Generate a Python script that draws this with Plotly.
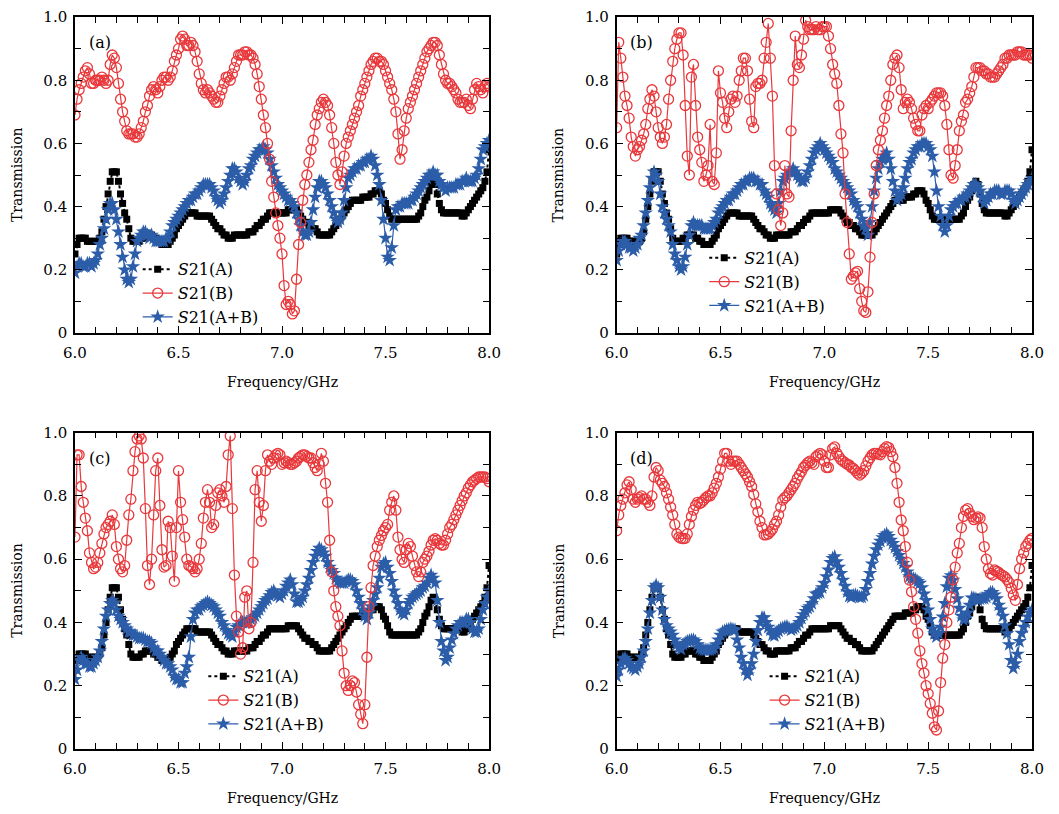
import plotly.graph_objects as go

# ---------------- data ----------------
FREQ = [round(6.0 + 0.01 * i, 2) for i in range(201)]  # frequency grid, GHz

X_TICKS = [6.0, 6.5, 7.0, 7.5, 8.0]
X_TICK_TEXT = ["6.0", "6.5", "7.0", "7.5", "8.0"]
Y_TICKS = [0, 0.2, 0.4, 0.6, 0.8, 1.0]
Y_TICK_TEXT = ["0", "0.2", "0.4", "0.6", "0.8", "1.0"]
PANEL_LABELS = ["(a)", "(b)", "(c)", "(d)"]
SERIES_NAMES = ["<i>S</i>21(A)", "<i>S</i>21(B)", "<i>S</i>21(A+B)"]

# S21(A): same measurement shown in all four panels
S21_A = [
    0.25, 0.28, 0.30, 0.30, 0.30, 0.30, 0.29, 0.29, 0.29, 0.29,
    0.29, 0.29, 0.30, 0.32, 0.36, 0.40, 0.44, 0.48, 0.51, 0.51,
    0.51, 0.48, 0.44, 0.41, 0.38, 0.36, 0.33, 0.30, 0.29, 0.29,
    0.29, 0.29, 0.30, 0.30, 0.31, 0.31, 0.31, 0.31, 0.30, 0.30,
    0.29, 0.29, 0.28, 0.28, 0.28, 0.28, 0.29, 0.30, 0.31, 0.33,
    0.34, 0.35, 0.36, 0.37, 0.38, 0.38, 0.38, 0.38, 0.38, 0.37,
    0.37, 0.37, 0.37, 0.37, 0.37, 0.37, 0.36, 0.35, 0.34, 0.33,
    0.33, 0.32, 0.31, 0.31, 0.30, 0.30, 0.30, 0.31, 0.31, 0.31,
    0.31, 0.31, 0.31, 0.31, 0.32, 0.32, 0.32, 0.33, 0.34, 0.34,
    0.35, 0.36, 0.36, 0.37, 0.38, 0.38, 0.38, 0.38, 0.38, 0.38,
    0.38, 0.38, 0.38, 0.39, 0.39, 0.39, 0.39, 0.39, 0.38, 0.37,
    0.36, 0.35, 0.35, 0.34, 0.34, 0.33, 0.33, 0.32, 0.31, 0.31,
    0.31, 0.31, 0.31, 0.31, 0.32, 0.33, 0.34, 0.35, 0.36, 0.37,
    0.38, 0.39, 0.40, 0.41, 0.42, 0.42, 0.42, 0.42, 0.42, 0.43,
    0.43, 0.43, 0.43, 0.44, 0.44, 0.45, 0.45, 0.45, 0.44, 0.42,
    0.41, 0.39, 0.37, 0.36, 0.36, 0.36, 0.36, 0.36, 0.36, 0.36,
    0.36, 0.36, 0.36, 0.36, 0.36, 0.36, 0.37, 0.38, 0.40, 0.42,
    0.43, 0.45, 0.47, 0.48, 0.47, 0.44, 0.41, 0.39, 0.38, 0.38,
    0.38, 0.38, 0.38, 0.38, 0.38, 0.38, 0.38, 0.37, 0.37, 0.38,
    0.39, 0.40, 0.41, 0.42, 0.43, 0.44, 0.45, 0.46, 0.48, 0.51,
    0.58,
]

S21_B_a = [
    0.69, 0.74, 0.77, 0.79, 0.81, 0.83, 0.84, 0.82, 0.79, 0.79,
    0.80, 0.80, 0.80, 0.81, 0.80, 0.79, 0.80, 0.85, 0.88, 0.87,
    0.84, 0.79, 0.74, 0.70, 0.67, 0.64, 0.63, 0.63, 0.63, 0.62,
    0.62, 0.63, 0.65, 0.67, 0.70, 0.72, 0.75, 0.77, 0.78, 0.77,
    0.76, 0.78, 0.80, 0.81, 0.81, 0.80, 0.81, 0.83, 0.86, 0.88,
    0.90, 0.93, 0.94, 0.93, 0.91, 0.91, 0.92, 0.91, 0.89, 0.86,
    0.82, 0.79, 0.77, 0.76, 0.77, 0.76, 0.75, 0.74, 0.73, 0.73,
    0.75, 0.77, 0.79, 0.81, 0.81, 0.80, 0.82, 0.84, 0.86, 0.88,
    0.88, 0.88, 0.89, 0.89, 0.88, 0.88, 0.87, 0.85, 0.82, 0.78,
    0.74, 0.69, 0.65, 0.60, 0.55, 0.48, 0.43, 0.38, 0.34, 0.30,
    0.25, 0.15, 0.09, 0.10, 0.09, 0.06, 0.07, 0.17, 0.28, 0.35,
    0.42, 0.47, 0.50, 0.54, 0.58, 0.61, 0.66, 0.69, 0.71, 0.73,
    0.74, 0.73, 0.72, 0.69, 0.65, 0.60, 0.54, 0.50, 0.47, 0.51,
    0.56, 0.60, 0.62, 0.64, 0.66, 0.68, 0.70, 0.72, 0.75, 0.77,
    0.79, 0.81, 0.83, 0.85, 0.86, 0.87, 0.87, 0.86, 0.86, 0.85,
    0.83, 0.81, 0.79, 0.77, 0.74, 0.70, 0.63, 0.55, 0.58, 0.64,
    0.68, 0.71, 0.73, 0.75, 0.77, 0.79, 0.81, 0.83, 0.85, 0.87,
    0.89, 0.90, 0.91, 0.92, 0.92, 0.91, 0.88, 0.85, 0.82, 0.80,
    0.79, 0.79, 0.78, 0.77, 0.76, 0.74, 0.73, 0.73, 0.73, 0.74,
    0.72, 0.71, 0.74, 0.77, 0.79, 0.78, 0.77, 0.76, 0.78, 0.79,
    0.78,
]

S21_AB_a = [
    0.19, 0.21, 0.22, 0.22, 0.21, 0.21, 0.22, 0.22, 0.21, 0.22,
    0.23, 0.25, 0.28, 0.30, 0.33, 0.36, 0.39, 0.41, 0.41, 0.39,
    0.36, 0.32, 0.28, 0.24, 0.20, 0.17, 0.16, 0.17, 0.21, 0.25,
    0.29, 0.30, 0.31, 0.32, 0.32, 0.31, 0.30, 0.31, 0.30, 0.29,
    0.29, 0.29, 0.29, 0.29, 0.30, 0.30, 0.32, 0.34, 0.35, 0.36,
    0.37, 0.38, 0.39, 0.40, 0.41, 0.42, 0.42, 0.43, 0.44, 0.44,
    0.45, 0.46, 0.47, 0.47, 0.47, 0.47, 0.46, 0.45, 0.43, 0.42,
    0.41, 0.42, 0.44, 0.46, 0.48, 0.50, 0.52, 0.52, 0.51, 0.49,
    0.48, 0.47, 0.48, 0.50, 0.52, 0.53, 0.55, 0.56, 0.57, 0.58,
    0.58, 0.59, 0.58, 0.57, 0.55, 0.53, 0.51, 0.49, 0.47, 0.46,
    0.45, 0.44, 0.43, 0.42, 0.42, 0.41, 0.40, 0.38, 0.36, 0.34,
    0.32, 0.31, 0.31, 0.32, 0.35, 0.39, 0.43, 0.46, 0.48, 0.48,
    0.47, 0.46, 0.44, 0.42, 0.40, 0.38, 0.36, 0.35, 0.36, 0.38,
    0.42, 0.46, 0.49, 0.50, 0.51, 0.52, 0.52, 0.53, 0.53, 0.54,
    0.54, 0.55, 0.55, 0.56, 0.55, 0.53, 0.50, 0.47, 0.42, 0.36,
    0.30, 0.24, 0.23, 0.27, 0.34, 0.39, 0.40, 0.40, 0.41, 0.41,
    0.41, 0.41, 0.42, 0.42, 0.43, 0.44, 0.45, 0.46, 0.47, 0.48,
    0.49, 0.50, 0.50, 0.51, 0.50, 0.50, 0.48, 0.47, 0.46, 0.45,
    0.46, 0.46, 0.46, 0.46, 0.47, 0.47, 0.47, 0.48, 0.48, 0.49,
    0.48, 0.48, 0.48, 0.49, 0.50, 0.52, 0.55, 0.58, 0.59, 0.60,
    0.61,
]

S21_B_b = [
    0.65, 0.92, 0.87, 0.81, 0.75, 0.72, 0.68, 0.62, 0.59, 0.56,
    0.58, 0.59, 0.61, 0.63, 0.66, 0.71, 0.74, 0.77, 0.75, 0.70,
    0.65, 0.62, 0.60, 0.62, 0.66, 0.74, 0.80, 0.86, 0.90, 0.93,
    0.95, 0.95, 0.88, 0.72, 0.56, 0.50, 0.81, 0.85, 0.72, 0.62,
    0.58, 0.54, 0.48, 0.50, 0.53, 0.66, 0.48, 0.47, 0.57, 0.83,
    0.76, 0.73, 0.68, 0.65, 0.70, 0.74, 0.75, 0.73, 0.75, 0.80,
    0.83, 0.87, 0.87, 0.83, 0.74, 0.67, 0.65, 0.78, 0.79, 0.79,
    0.80, 0.87, 0.92, 0.98, 0.87, 0.75, 0.53, 0.44, 0.39, 0.34,
    0.38, 0.53, 0.44, 0.43, 0.64, 0.80, 0.94, 0.85, 0.84, 0.88,
    0.93, 0.99, 0.97, 0.96, 0.96, 0.96, 0.97, 0.96, 0.96, 0.97,
    0.97, 0.97, 0.94, 0.90, 0.85, 0.82, 0.79, 0.72, 0.63, 0.57,
    0.44, 0.35, 0.25, 0.17, 0.18, 0.19, 0.195, 0.14, 0.10, 0.07,
    0.065, 0.13, 0.24, 0.35, 0.44, 0.53, 0.58, 0.61, 0.64, 0.68,
    0.72, 0.75, 0.80, 0.85, 0.87, 0.88, 0.84, 0.77, 0.71, 0.73,
    0.74, 0.73, 0.71, 0.68, 0.66, 0.64, 0.64, 0.69, 0.71, 0.72,
    0.71, 0.73, 0.74, 0.75, 0.76, 0.76, 0.76, 0.75, 0.72, 0.66,
    0.58, 0.50, 0.49, 0.53, 0.58, 0.64, 0.67, 0.69, 0.73, 0.74,
    0.76, 0.78, 0.81, 0.84, 0.84, 0.84, 0.83, 0.83, 0.82, 0.82,
    0.81, 0.81, 0.81, 0.82, 0.83, 0.84, 0.85, 0.87, 0.87, 0.88,
    0.88, 0.88, 0.88, 0.89, 0.89, 0.89, 0.88, 0.88, 0.88, 0.88,
    0.87,
]

S21_AB_b = [
    0.23, 0.26, 0.28, 0.29, 0.29, 0.28, 0.27, 0.27, 0.26, 0.27,
    0.28, 0.30, 0.31, 0.34, 0.38, 0.42, 0.46, 0.49, 0.51, 0.50,
    0.48, 0.44, 0.40, 0.38, 0.36, 0.34, 0.32, 0.28, 0.25, 0.23,
    0.21, 0.20, 0.21, 0.24, 0.28, 0.31, 0.34, 0.35, 0.34, 0.34,
    0.34, 0.34, 0.33, 0.33, 0.33, 0.33, 0.34, 0.35, 0.36, 0.38,
    0.39, 0.40, 0.41, 0.42, 0.42, 0.43, 0.44, 0.44, 0.45, 0.46,
    0.47, 0.47, 0.48, 0.48, 0.49, 0.49, 0.49, 0.48, 0.48, 0.47,
    0.47, 0.45, 0.44, 0.43, 0.41, 0.40, 0.39, 0.38, 0.41, 0.45,
    0.48, 0.49, 0.50, 0.51, 0.51, 0.52, 0.51, 0.50, 0.49, 0.48,
    0.48, 0.49, 0.51, 0.53, 0.55, 0.57, 0.58, 0.59, 0.60, 0.59,
    0.58, 0.57, 0.56, 0.55, 0.54, 0.52, 0.51, 0.50, 0.49, 0.48,
    0.47, 0.46, 0.45, 0.44, 0.42, 0.41, 0.40, 0.38, 0.36, 0.34,
    0.33, 0.31, 0.35, 0.40, 0.45, 0.49, 0.52, 0.54, 0.55, 0.56,
    0.57, 0.55, 0.52, 0.48, 0.45, 0.42, 0.43, 0.44, 0.46, 0.49,
    0.52, 0.54, 0.55, 0.57, 0.58, 0.59, 0.59, 0.60, 0.60, 0.60,
    0.59, 0.58, 0.56, 0.51, 0.45, 0.40, 0.37, 0.34, 0.32, 0.34,
    0.37, 0.39, 0.40, 0.41, 0.41, 0.42, 0.42, 0.43, 0.43, 0.44,
    0.45, 0.46, 0.47, 0.47, 0.46, 0.45, 0.43, 0.41, 0.42, 0.43,
    0.44, 0.44, 0.45, 0.45, 0.45, 0.44, 0.44, 0.45, 0.45, 0.45,
    0.44, 0.42, 0.41, 0.42, 0.43, 0.44, 0.45, 0.46, 0.47, 0.48,
    0.49,
]

S21_B_c = [
    0.67, 0.93, 0.93, 0.83, 0.78, 0.73, 0.69, 0.62, 0.59, 0.57,
    0.575, 0.59, 0.62, 0.65, 0.68, 0.70, 0.71, 0.72, 0.74, 0.71,
    0.64, 0.60, 0.57, 0.56, 0.58, 0.66, 0.74, 0.79, 0.88, 0.94,
    0.98, 0.99, 0.98, 0.92, 0.76, 0.58, 0.52, 0.60, 0.74, 0.88,
    0.92, 0.77, 0.63, 0.575, 0.58, 0.72, 0.70, 0.61, 0.53, 0.70,
    0.88, 0.78, 0.725, 0.67, 0.60, 0.58, 0.577, 0.57, 0.56, 0.57,
    0.60, 0.65, 0.73, 0.78, 0.82, 0.78, 0.70, 0.71, 0.77, 0.81,
    0.82, 0.80, 0.78, 0.83, 0.93, 0.99, 0.76, 0.55, 0.42, 0.37,
    0.30, 0.32, 0.48, 0.50, 0.38, 0.40, 0.59, 0.82, 0.88, 0.78,
    0.72, 0.77, 0.88, 0.93, 0.91, 0.90, 0.92, 0.93, 0.935, 0.93,
    0.90, 0.905, 0.91, 0.905, 0.90, 0.90, 0.905, 0.91, 0.92, 0.925,
    0.93, 0.93, 0.925, 0.92, 0.92, 0.905, 0.89, 0.88, 0.90, 0.935,
    0.91, 0.84, 0.78, 0.66, 0.56, 0.50, 0.45, 0.42, 0.39, 0.31,
    0.24, 0.20, 0.185, 0.20, 0.215, 0.21, 0.18, 0.14, 0.11, 0.08,
    0.14, 0.29, 0.45, 0.51, 0.58, 0.61, 0.64, 0.66, 0.675, 0.69,
    0.70, 0.71, 0.755, 0.78, 0.80, 0.755, 0.67, 0.63, 0.60, 0.59,
    0.63, 0.65, 0.64, 0.61, 0.58, 0.56, 0.545, 0.56, 0.59, 0.60,
    0.61, 0.625, 0.645, 0.66, 0.665, 0.66, 0.65, 0.645, 0.645, 0.66,
    0.68, 0.70, 0.71, 0.725, 0.74, 0.755, 0.77, 0.785, 0.80, 0.81,
    0.825, 0.835, 0.845, 0.85, 0.855, 0.86, 0.86, 0.86, 0.86, 0.855,
    0.845,
]

S21_AB_c = [
    0.22, 0.25, 0.28, 0.29, 0.28, 0.27, 0.27, 0.26, 0.26, 0.27,
    0.28, 0.29, 0.31, 0.34, 0.38, 0.42, 0.44, 0.46, 0.47, 0.46,
    0.44, 0.42, 0.41, 0.40, 0.39, 0.38, 0.37, 0.37, 0.36, 0.36,
    0.355, 0.35, 0.35, 0.35, 0.345, 0.34, 0.34, 0.335, 0.32, 0.31,
    0.31, 0.30, 0.29, 0.28, 0.27, 0.27, 0.26, 0.25, 0.23, 0.22,
    0.22, 0.21, 0.21, 0.24, 0.26, 0.29, 0.355, 0.41, 0.43, 0.44,
    0.44, 0.45, 0.455, 0.46, 0.465, 0.46, 0.455, 0.45, 0.44, 0.43,
    0.42, 0.40, 0.39, 0.375, 0.365, 0.36, 0.355, 0.37, 0.385, 0.39,
    0.40, 0.40, 0.40, 0.40, 0.40, 0.41, 0.415, 0.42, 0.43, 0.44,
    0.45, 0.46, 0.47, 0.475, 0.485, 0.495, 0.50, 0.49, 0.485, 0.48,
    0.49, 0.50, 0.515, 0.525, 0.535, 0.52, 0.49, 0.465, 0.465, 0.47,
    0.48, 0.50, 0.52, 0.54, 0.565, 0.59, 0.61, 0.625, 0.635, 0.63,
    0.62, 0.61, 0.59, 0.575, 0.565, 0.555, 0.54, 0.53, 0.525, 0.525,
    0.525, 0.53, 0.535, 0.535, 0.53, 0.52, 0.50, 0.48, 0.46, 0.44,
    0.42, 0.41, 0.43, 0.45, 0.47, 0.49, 0.51, 0.54, 0.575, 0.585,
    0.59, 0.575, 0.555, 0.53, 0.50, 0.48, 0.46, 0.44, 0.43, 0.425,
    0.44, 0.46, 0.47, 0.48, 0.485, 0.49, 0.495, 0.50, 0.51, 0.515,
    0.525, 0.54, 0.55, 0.54, 0.525, 0.47, 0.40, 0.34, 0.31, 0.28,
    0.29, 0.32, 0.345, 0.365, 0.38, 0.39, 0.40, 0.40, 0.40, 0.41,
    0.41, 0.40, 0.38, 0.37, 0.37, 0.38, 0.41, 0.44, 0.46, 0.48,
    0.50,
]

S21_B_d = [
    0.69, 0.74, 0.77, 0.79, 0.81, 0.835, 0.845, 0.82, 0.79, 0.78,
    0.79, 0.795, 0.80, 0.79, 0.79, 0.78, 0.77, 0.80, 0.86, 0.89,
    0.88, 0.85, 0.84, 0.83, 0.81, 0.79, 0.765, 0.74, 0.71, 0.68,
    0.67, 0.666, 0.665, 0.666, 0.68, 0.71, 0.735, 0.755, 0.77, 0.78,
    0.776, 0.78, 0.787, 0.795, 0.80, 0.80, 0.81, 0.825, 0.84, 0.86,
    0.885, 0.91, 0.935, 0.935, 0.91, 0.90, 0.91, 0.91, 0.91, 0.90,
    0.89, 0.88, 0.87, 0.86, 0.845, 0.83, 0.805, 0.775, 0.75, 0.72,
    0.70, 0.677, 0.677, 0.68, 0.687, 0.695, 0.71, 0.72, 0.74, 0.765,
    0.787, 0.795, 0.80, 0.81, 0.82, 0.83, 0.84, 0.855, 0.866, 0.877,
    0.89, 0.897, 0.905, 0.91, 0.905, 0.90, 0.924, 0.93, 0.935, 0.93,
    0.91, 0.89, 0.89, 0.93, 0.95, 0.955, 0.935, 0.925, 0.915, 0.91,
    0.905, 0.90, 0.898, 0.89, 0.887, 0.88, 0.872, 0.866, 0.872, 0.88,
    0.895, 0.91, 0.92, 0.93, 0.935, 0.935, 0.932, 0.93, 0.94, 0.95,
    0.956, 0.953, 0.94, 0.924, 0.89, 0.84, 0.78, 0.724, 0.69, 0.64,
    0.59, 0.534, 0.497, 0.45, 0.41, 0.366, 0.31, 0.27, 0.24, 0.20,
    0.175, 0.144, 0.113, 0.07, 0.06, 0.12, 0.21, 0.287, 0.33, 0.40,
    0.44, 0.48, 0.535, 0.575, 0.62, 0.65, 0.70, 0.735, 0.755, 0.76,
    0.745, 0.735, 0.725, 0.73, 0.734, 0.73, 0.70, 0.64, 0.60, 0.57,
    0.555, 0.55, 0.566, 0.562, 0.558, 0.552, 0.548, 0.544, 0.536, 0.526,
    0.508, 0.487, 0.47, 0.52, 0.57, 0.60, 0.62, 0.64, 0.65, 0.66,
    0.666,
]

S21_AB_d = [
    0.23, 0.25, 0.27, 0.285, 0.287, 0.28, 0.27, 0.26, 0.255, 0.25,
    0.26, 0.27, 0.29, 0.31, 0.34, 0.38, 0.43, 0.47, 0.51, 0.518,
    0.51, 0.48, 0.44, 0.41, 0.39, 0.38, 0.37, 0.36, 0.345, 0.33,
    0.32, 0.315, 0.33, 0.335, 0.34, 0.342, 0.344, 0.345, 0.34, 0.33,
    0.318, 0.315, 0.313, 0.313, 0.313, 0.313, 0.315, 0.318, 0.33, 0.345,
    0.36, 0.37, 0.373, 0.376, 0.378, 0.38, 0.378, 0.376, 0.345, 0.32,
    0.29, 0.27, 0.25, 0.234, 0.25, 0.27, 0.30, 0.34, 0.375, 0.40,
    0.415, 0.415, 0.40, 0.385, 0.376, 0.36, 0.358, 0.366, 0.373, 0.38,
    0.383, 0.386, 0.387, 0.382, 0.376, 0.38, 0.385, 0.39, 0.40, 0.413,
    0.425, 0.435, 0.445, 0.45, 0.46, 0.475, 0.49, 0.493, 0.495, 0.51,
    0.524, 0.545, 0.566, 0.59, 0.603, 0.608, 0.592, 0.575, 0.555, 0.534,
    0.515, 0.497, 0.483, 0.48, 0.485, 0.487, 0.483, 0.48, 0.48, 0.485,
    0.505, 0.53, 0.555, 0.585, 0.61, 0.63, 0.645, 0.657, 0.668, 0.675,
    0.68, 0.672, 0.66, 0.65, 0.638, 0.625, 0.612, 0.60, 0.587, 0.575,
    0.56, 0.545, 0.54, 0.538, 0.535, 0.53, 0.524, 0.51, 0.49, 0.47,
    0.44, 0.41, 0.38, 0.365, 0.355, 0.365, 0.385, 0.418, 0.46, 0.513,
    0.54, 0.548, 0.534, 0.505, 0.475, 0.445, 0.42, 0.408, 0.412, 0.43,
    0.455, 0.478, 0.477, 0.474, 0.47, 0.474, 0.476, 0.476, 0.48, 0.488,
    0.495, 0.495, 0.487, 0.475, 0.455, 0.44, 0.42, 0.39, 0.365, 0.33,
    0.28, 0.255, 0.27, 0.30, 0.34, 0.366, 0.385, 0.40, 0.418, 0.43,
    0.44,
]

PANEL_B = [S21_B_a, S21_B_b, S21_B_c, S21_B_d]
PANEL_AB = [S21_AB_a, S21_AB_b, S21_AB_c, S21_AB_d]

for name, arr in [("S21_A", S21_A), ("a", S21_B_a), ("b", S21_B_b), ("c", S21_B_c), ("d", S21_B_d),
                  ("ab_a", S21_AB_a), ("ab_b", S21_AB_b), ("ab_c", S21_AB_c), ("ab_d", S21_AB_d)]:
    if len(arr) != len(FREQ):
        raise ValueError(f"{name} has {len(arr)} values")

# ---------------- style ----------------
FONT = "DejaVu Serif"
RED = "#E8383B"
BLUE = "#2C5DA9"
X_DOMAINS = [[0.0708, 0.4618], [0.5823, 0.9745], [0.0708, 0.4618], [0.5823, 0.9745]]
Y_DOMAINS = [[0.591, 0.979], [0.591, 0.979], [0.0799, 0.4684], [0.0799, 0.4684]]
LEGEND_POS = [(0.130, 0.690), (0.665, 0.704), (0.192, 0.190), (0.722, 0.190)]

fig = go.Figure()
layout = dict(
    width=1059, height=814,
    margin=dict(l=0, r=0, t=0, b=0),
    paper_bgcolor="white", plot_bgcolor="white",
    font=dict(family=FONT, color="black", size=15),
    annotations=[],
)

for i in range(4):
    n = i + 1
    sfx = "" if n == 1 else str(n)
    xa, ya = "x" + sfx, "y" + sfx
    lg = "legend" + sfx

    fig.add_trace(go.Scatter(
        x=FREQ, y=S21_A, xaxis=xa, yaxis=ya, legend=lg, legendrank=1,
        name=SERIES_NAMES[0], mode="lines+markers",
        line=dict(color="black", width=2, dash="dot"),
        marker=dict(symbol="square", size=7, color="black"),
    ))
    fig.add_trace(go.Scatter(
        x=FREQ, y=PANEL_AB[i], xaxis=xa, yaxis=ya, legend=lg, legendrank=3,
        name=SERIES_NAMES[2], mode="lines+markers",
        line=dict(color=BLUE, width=1.2),
        marker=dict(symbol="star", size=11, color=BLUE, line=dict(width=0)),
    ))
    fig.add_trace(go.Scatter(
        x=FREQ, y=PANEL_B[i], xaxis=xa, yaxis=ya, legend=lg, legendrank=2,
        name=SERIES_NAMES[1], mode="lines+markers",
        line=dict(color=RED, width=1.2),
        marker=dict(symbol="circle-open", size=10, color=RED, line=dict(width=1.3, color=RED)),
    ))

    common = dict(
        showline=True, linecolor="black", linewidth=1.5, mirror="ticks",
        ticks="inside", ticklen=7, tickwidth=1.2, tickcolor="black",
        showgrid=False, zeroline=False, automargin=False,
        tickfont=dict(family=FONT, size=15, color="black"),
    )
    layout["xaxis" + sfx] = dict(
        common, domain=X_DOMAINS[i], anchor=ya, range=[6.0, 8.0],
        tickvals=X_TICKS, ticktext=X_TICK_TEXT, ticklabelstandoff=5,
        minor=dict(ticks="inside", dtick=0.1, tick0=6.0, ticklen=6, tickwidth=1, tickcolor="black"),
    )
    layout["yaxis" + sfx] = dict(
        common, domain=Y_DOMAINS[i], anchor=xa, range=[0, 1.0],
        tickvals=Y_TICKS, ticktext=Y_TICK_TEXT, ticklabelstandoff=3,
        minor=dict(ticks="inside", dtick=0.1, tick0=0, ticklen=6, tickwidth=1, tickcolor="black"),
    )
    layout[lg] = dict(
        x=LEGEND_POS[i][0], y=LEGEND_POS[i][1], xanchor="left", yanchor="top",
        bgcolor="rgba(0,0,0,0)", borderwidth=0, tracegroupgap=0,
        font=dict(family=FONT, size=16, color="black"),
    )
    layout["annotations"] += [
        dict(text=PANEL_LABELS[i], xref=xa + " domain", yref=ya + " domain",
             x=0.06, y=0.918, xanchor="center", yanchor="middle", showarrow=False,
             font=dict(family=FONT, size=16, color="black")),
        dict(text="Frequency/GHz", xref=xa + " domain", yref=ya + " domain",
             x=0.5, y=-0.155, xanchor="center", yanchor="middle", showarrow=False,
             font=dict(family=FONT, size=14, color="black")),
        dict(text="Transmission", xref=xa + " domain", yref=ya + " domain",
             x=-0.14, y=0.5, xanchor="center", yanchor="middle", showarrow=False,
             textangle=-90, font=dict(family=FONT, size=14, color="black")),
    ]

fig.update_layout(**layout)
fig.write_html("out.html")
